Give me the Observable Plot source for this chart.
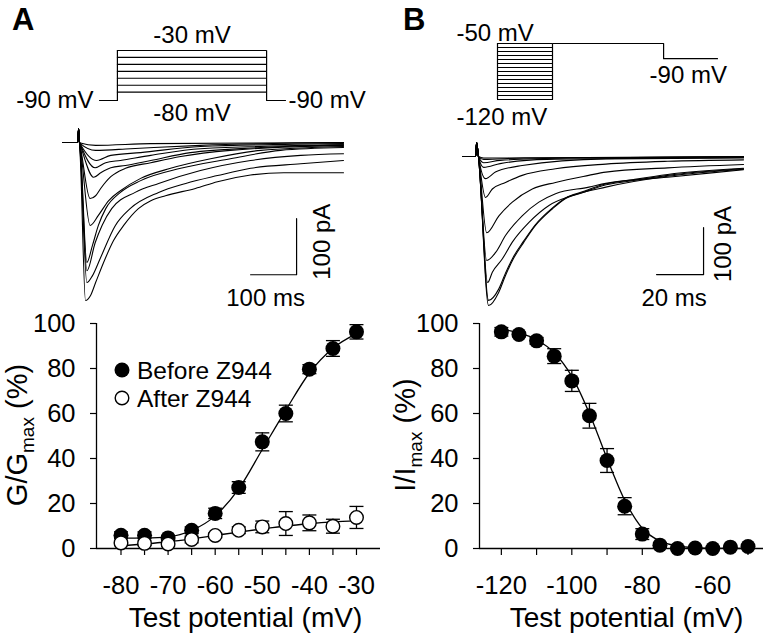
<!DOCTYPE html>
<html>
<head>
<meta charset="utf-8">
<script src="https://cdn.jsdelivr.net/npm/d3@7"></script>
<script src="https://cdn.jsdelivr.net/npm/@observablehq/plot@0.6"></script>
<style>
  html, body { margin: 0; padding: 0; background: #fff; }
  #fig { position: relative; width: 766px; height: 636px; background: #fff; overflow: hidden; }
  .panel { position: absolute; font-family: 'Liberation Sans', Arial, Helvetica, sans-serif; font-weight: bold; font-size: 31px; line-height: 1; color: #000; }
</style>
</head>
<body>
<div id="fig">
  <div class="panel" style="left:12px;top:4px">A</div>
  <div class="panel" style="left:403px;top:4px">B</div>
</div>
<script>
// ---------------- DATA ----------------
// Panel A: activation (G/Gmax, %)
const voltageA   = [-80, -75, -70, -65, -60, -55, -50, -45, -40, -35, -30];
const beforeMean = [5.9, 5.9, 4.7, 8.1, 15.6, 27.1, 47.4, 60.0, 79.7, 88.9, 96.3];
const beforeSem  = [1.5, 1.5, 1.0, 1.5, 2.3, 2.6, 4.0, 3.7, 2.0, 3.5, 3.2];
const afterMean  = [2.5, 2.3, 2.0, 4.0, 5.8, 8.1, 9.6, 11.1, 11.4, 9.9, 13.8];
const afterSem   = [1.0, 1.0, 1.0, 1.5, 1.0, 1.5, 2.6, 5.3, 3.5, 3.1, 4.9];
const beforeFit  = [4.6, 4.7, 5.2, 8.0, 14.5, 26.5, 44.0, 61.5, 78.0, 89.0, 95.5];
const afterFit   = [1.2, 2.0, 3.0, 4.3, 5.8, 7.3, 8.7, 10.0, 11.0, 11.8, 12.4];
const xTicksA    = [-80, -75, -70, -65, -60, -55, -50, -45, -40, -35, -30];
const yTicks     = [0, 20, 40, 60, 80, 100];
const legendA    = ["Before Z944", "After Z944"];

// Panel B: steady-state inactivation (I/Imax, %)
const voltageB = [-120, -115, -110, -105, -100, -95, -90, -85, -80, -75, -70, -65, -60, -55, -50];
const inactMean = [96.3, 95.1, 92.3, 85.5, 74.5, 59.0, 39.1, 18.8, 6.4, 1.5, 0.0, 0.2, 0.0, 0.6, 0.9];
const inactSem  = [1.9, 1.0, 1.5, 3.3, 4.7, 5.5, 5.3, 3.8, 2.4, 1.0, 0.5, 0.5, 0.5, 0.5, 0.5];
const inactFit  = [97.5, 95.8, 92.8, 87.0, 76.5, 60.0, 40.0, 21.5, 9.0, 3.3, 1.2, 0.4, 0.15, 0.05, 0.0];
const xTicksB   = [-120, -110, -100, -90, -80, -70, -60, -50];

// Voltage protocols (schematic)
const protoA_levels = [-30, -38.3, -46.7, -55, -63.3, -71.7, -80];   // drawn step levels (mV)
const protoA_hold = -90;
const protoA_times = [-36, 0, 300, 338];                              // ms: hold, step on, step off, end
const protoB_levels = [-120, -115, -110, -105, -100, -95, -90, -85, -80, -75, -70, -65, -60, -55, -50];
const protoB_times = [0, 50, 151, 200];                               // ms: prepulse, test, return, end
const protoB_test = -50;
const protoB_tailDrawn = -69;   // "-90 mV" return, drawn schematically (not to scale)

// Current traces, panel A: [time ms, current pA] (after a common capacitive spike)
const spikeA = [[-35, 0], [-2, 0], [0, 25], [2, 0]];
const tracesA = [
  [[4,-32],[15,-282],[26,-273],[37,-250],[58,-207],[76,-175],[98,-148],[130,-118],[157,-104],[189,-95],[254,-82],[302,-70],[374,-58],[446,-54],[576,-54]],
  [[4,-23],[18,-250],[30,-238],[47,-207],[80,-148],[112,-118],[174,-89],[233,-73],[302,-59],[374,-46],[483,-38],[576,-32]],
  [[4,-18],[18,-229],[36,-179],[51,-148],[72,-118],[123,-89],[174,-73],[265,-50],[374,-32],[483,-23],[576,-20]],
  [[4,-15],[18,-214],[30,-184],[43,-148],[59,-118],[91,-89],[135,-68],[222,-46],[330,-29],[439,-14],[576,-9]],
  [[4,-10],[25,-148],[43,-130],[65,-104],[91,-86],[135,-64],[200,-46],[287,-29],[396,-14],[576,-7]],
  [[4,-8],[25,-100],[37,-95],[48,-82],[70,-61],[102,-46],[157,-36],[222,-25],[330,-14],[576,-5]],
  [[4,-5],[33,-62],[48,-54],[70,-45],[102,-41],[157,-32],[243,-18],[396,-9],[576,-4]],
  [[4,-4],[36,-45],[59,-36],[91,-32],[157,-23],[265,-11],[576,-4]],
  [[4,-3],[39,-32],[70,-23],[135,-18],[265,-7],[576,-2]],
  [[4,-2],[37,-14],[113,-11],[265,-5],[576,0]],
  [[4,-1],[37,-5],[157,-2],[576,0]]
];
const scaleBarA = {t: [374, 474, 474], I: [-236, -236, -136], tLabel: "100 ms", iLabel: "100 pA"};

// Current traces, panel B
const spikeB = [[-6, 0], [-0.4, 0], [0, 30], [0.8, 0]];
const tracesB = [
  [[5.1,-317],[9.4,-289],[12.3,-253],[15.7,-217],[20,-183],[25,-147],[32.3,-111],[37.9,-89],[45,-77],[53.6,-62],[65.5,-52],[81.3,-40],[113.6,-26]],
  [[5.1,-306],[9.4,-282],[12.3,-248],[15.7,-213],[20,-180],[25,-145],[32.3,-109],[37.9,-88],[45,-75],[53.6,-60],[65.5,-50],[81.3,-38],[113.6,-25]],
  [[4.7,-268],[6.7,-246],[10.9,-218],[15.2,-182],[22.3,-140],[30.8,-104],[40.7,-83],[55,-65],[81.3,-42],[113.6,-27]],
  [[4.3,-221],[8.1,-204],[12.3,-168],[19.4,-126],[26.5,-97],[33.6,-79],[47.8,-65],[55,-57],[81.3,-44],[113.6,-28]],
  [[4.3,-162],[9.5,-126],[15.2,-97],[23.7,-69],[33.6,-55],[47.7,-40],[55,-33],[81.3,-24],[113.6,-17]],
  [[3.8,-87],[6.7,-69],[12.3,-55],[19.4,-40],[33.6,-26],[55,-16],[81.3,-10],[113.6,-7]],
  [[3.8,-47],[8,-33],[19.4,-19],[55,-5],[113.6,-3]],
  [[3,-23],[10,-15],[30,-6],[113.6,-2]],
  [[3,-13],[10,-8],[40,-3],[113.6,0]],
  [[3,-6],[20,-3],[113.6,-1]],
  [[3,-3],[113.6,0]]
];
const scaleBarB = {t: [76.6, 96.6, 96.6], I: [-251, -251, -151], tLabel: "20 ms", iLabel: "100 pA"};

// ---------------- DRAWING ----------------
const FONT = "'Liberation Sans', Arial, Helvetica, sans-serif";
const fig = document.getElementById("fig");
const place = (left, top) => ({position: "absolute", left: left + "px", top: top + "px", fontFamily: FONT, background: "transparent", overflow: "visible", color: "black"});
const capSymbol = {draw(ctx) { ctx.moveTo(-7, 0); ctx.lineTo(7, 0); }};

function traceRows(spike, traces) {
  const rows = [];
  traces.forEach((tr, k) => spike.concat(tr).forEach(([t, I]) => rows.push({id: k, t, I})));
  return rows;
}

// Protocol A
fig.appendChild(Plot.plot({
  width: 383, height: 125,
  x: {domain: [protoA_times[0], protoA_times[3]], range: [99, 285], axis: null},
  y: {domain: [-90, -30], range: [100, 50], axis: null},
  style: place(0, 0),
  marks: [
    Plot.ruleY(protoA_levels, {x1: protoA_times[1], x2: protoA_times[2], stroke: "black", strokeWidth: 1.2}),
    Plot.line([[protoA_times[0], protoA_hold], [protoA_times[1], protoA_hold], [protoA_times[1], protoA_levels[0]]], {stroke: "black", strokeWidth: 1.2}),
    Plot.line([[protoA_times[2], protoA_levels[0]], [protoA_times[2], protoA_hold], [protoA_times[3], protoA_hold]], {stroke: "black", strokeWidth: 1.2}),
    Plot.text([protoA_levels[0] + " mV"], {x: (protoA_times[1] + protoA_times[2]) / 2, y: protoA_levels[0], dy: -15, fontSize: 24}),
    Plot.text([protoA_levels[protoA_levels.length - 1] + " mV"], {x: (protoA_times[1] + protoA_times[2]) / 2, y: protoA_levels[protoA_levels.length - 1], dy: 21, fontSize: 24}),
    Plot.text([protoA_hold + " mV"], {x: protoA_times[0], y: protoA_hold, textAnchor: "end", dx: -6, fontSize: 24}),
    Plot.text([protoA_hold + " mV"], {x: protoA_times[3], y: protoA_hold, textAnchor: "start", dx: 3, fontSize: 24})
  ]
}));

// Protocol B
fig.appendChild(Plot.plot({
  width: 383, height: 125,
  x: {domain: [protoB_times[0], protoB_times[3]], range: [114, 334], axis: null},
  y: {domain: [-120, -50], range: [99, 43], axis: null},
  style: place(383, 0),
  marks: [
    Plot.ruleY(protoB_levels, {x1: protoB_times[0], x2: protoB_times[1], stroke: "black", strokeWidth: 1.1}),
    Plot.ruleX([protoB_times[0]], {y1: protoB_levels[0], y2: protoB_levels[protoB_levels.length - 1], stroke: "black", strokeWidth: 1.2}),
    Plot.line([[protoB_times[1], protoB_levels[0]], [protoB_times[1], protoB_test], [protoB_times[2], protoB_test], [protoB_times[2], protoB_tailDrawn], [protoB_times[3], protoB_tailDrawn]], {stroke: "black", strokeWidth: 1.2}),
    Plot.text(["-50 mV"], {x: protoB_times[0], y: -50, textAnchor: "start", dx: -41, dy: -10, fontSize: 24}),
    Plot.text(["-120 mV"], {x: protoB_times[0], y: -120, textAnchor: "start", dx: -41, dy: 18, fontSize: 24}),
    Plot.text(["-90 mV"], {x: protoB_times[2], y: protoB_tailDrawn, textAnchor: "start", dx: -14, dy: 17, fontSize: 24})
  ]
}));

// Traces
function tracePlot(left, top, spike, traces, bar, xDomain, xRange, yDomain, msDx, paDx, paDy) {
  return Plot.plot({
    width: 311, height: 196,
    x: {domain: xDomain, range: xRange, axis: null},
    y: {domain: yDomain, range: [196, 0], axis: null},
    style: place(left, top),
    marks: [
      Plot.line(traceRows(spike, traces), {x: "t", y: "I", z: "id", stroke: "black", strokeWidth: 1.1, curve: "monotone-x"}),
      Plot.line(bar.t.map((t, i) => [t, bar.I[i]]), {stroke: "black", strokeWidth: 1.2}),
      Plot.text([bar.tLabel], {x: (bar.t[0] + bar.t[1]) / 2, y: bar.I[0], dy: 24, dx: msDx, fontSize: 24}),
      Plot.text([bar.iLabel], {x: bar.t[2], y: (bar.I[1] + bar.I[2]) / 2, rotate: -90, dx: paDx, dy: paDy, fontSize: 24})
    ]
  });
}
fig.appendChild(tracePlot(55, 118, spikeA, tracesA, scaleBarA, [-35, 576], [7, 288], [-307, 42.9], -8, 26, -5));
fig.appendChild(tracePlot(455, 118, spikeB, tracesB, scaleBarB, [-6, 113.6], [7, 288], [-336, 81], -6, 20, -7));

// Summary plots
function yTitle(svg, x, y, main, sub) {
  const t = d3.select(svg).append("text")
    .attr("transform", `translate(${x},${y}) rotate(-90)`)
    .attr("text-anchor", "middle").attr("font-size", 29).attr("font-family", FONT).attr("fill", "black");
  t.append("tspan").text(main);
  t.append("tspan").attr("font-size", 19).attr("dy", 7).text(sub);
  t.append("tspan").attr("dy", -7).text(" (%)");
}

function summary(left, xDomain, xTicks, labelEvery, series, titleDx) {
  const marks = [
    Plot.axisX({ticks: xTicks, tickFormat: d => (d % labelEvery === 0 ? String(d) : ""), tickSize: 7, tickPadding: 20, label: null, fontSize: 25.5, strokeWidth: 1.2}),
    Plot.axisY({ticks: yTicks, tickSize: 6, tickPadding: 15, label: null, fontSize: 25.5, strokeWidth: 1.2}),
    Plot.ruleY([0], {stroke: "black", strokeWidth: 1.3}),
    Plot.ruleX([xDomain[0]], {y1: 0, y2: 100, stroke: "black", strokeWidth: 1.3})
  ];
  for (const s of series) {
    const rows = s.x.map((v, i) => ({v, m: s.mean[i], e: s.sem[i]}));
    marks.push(
      Plot.ruleX(rows, {x: "v", y1: d => d.m - d.e, y2: d => d.m + d.e, stroke: "black", strokeWidth: 1.3}),
      Plot.dot(rows, {x: "v", y: d => d.m + d.e, symbol: capSymbol, r: 7, fill: "none", stroke: "black", strokeWidth: 1.3}),
      Plot.dot(rows, {x: "v", y: d => d.m - d.e, symbol: capSymbol, r: 7, fill: "none", stroke: "black", strokeWidth: 1.3})
    );
  }
  for (const s of series) {
    const rows = s.x.map((v, i) => ({v, f: s.fit[i]}));
    marks.push(Plot.line(rows, {x: "v", y: "f", stroke: "black", strokeWidth: 1.3, curve: "monotone-x"}));
  }
  for (const s of series) {
    const rows = s.x.map((v, i) => ({v, m: s.mean[i]}));
    marks.push(s.filled
      ? Plot.dot(rows, {x: "v", y: "m", r: 7.5, fill: "black"})
      : Plot.dot(rows, {x: "v", y: "m", r: 6.8, fill: "white", stroke: "black", strokeWidth: 1.4}));
  }
  marks.push(Plot.text(["Test potential (mV)"], {frameAnchor: "bottom", dy: 78, dx: titleDx, fontSize: 28}));
  return Plot.plot({
    width: 383, height: 336,
    marginLeft: 96, marginRight: 3, marginTop: 23, marginBottom: 88,
    x: {domain: xDomain}, y: {domain: [0, 100]},
    style: place(left, 300),
    marks
  });
}

const svgA = summary(0, [-85.2, -24.9], xTicksA, 10, [
  {x: voltageA, mean: beforeMean, sem: beforeSem, fit: beforeFit, filled: true},
  {x: voltageA, mean: afterMean, sem: afterSem, fit: afterFit, filled: false}
], 7);
yTitle(svgA, 27, 135, "G/G", "max");
// legend
const lg = d3.select(svgA).append("g").attr("font-family", FONT).attr("font-size", 24.5).attr("text-anchor", "start");
lg.append("circle").attr("cx", 122).attr("cy", 70).attr("r", 7.5).attr("fill", "black");
lg.append("circle").attr("cx", 122).attr("cy", 98).attr("r", 6.8).attr("fill", "white").attr("stroke", "black").attr("stroke-width", 1.4);
lg.append("text").attr("x", 137).attr("y", 70).attr("dy", "0.35em").attr("text-anchor", "start").text(legendA[0]);
lg.append("text").attr("x", 137).attr("y", 98).attr("dy", "0.35em").attr("text-anchor", "start").text(legendA[1]);
fig.appendChild(svgA);

const svgB = summary(383, [-126.2, -45.6], xTicksB, 20, [
  {x: voltageB, mean: inactMean, sem: inactSem, fit: inactFit, filled: true}
], 5);
yTitle(svgB, 32, 135, "I/I", "max");
fig.appendChild(svgB);
</script>
</body>
</html>
